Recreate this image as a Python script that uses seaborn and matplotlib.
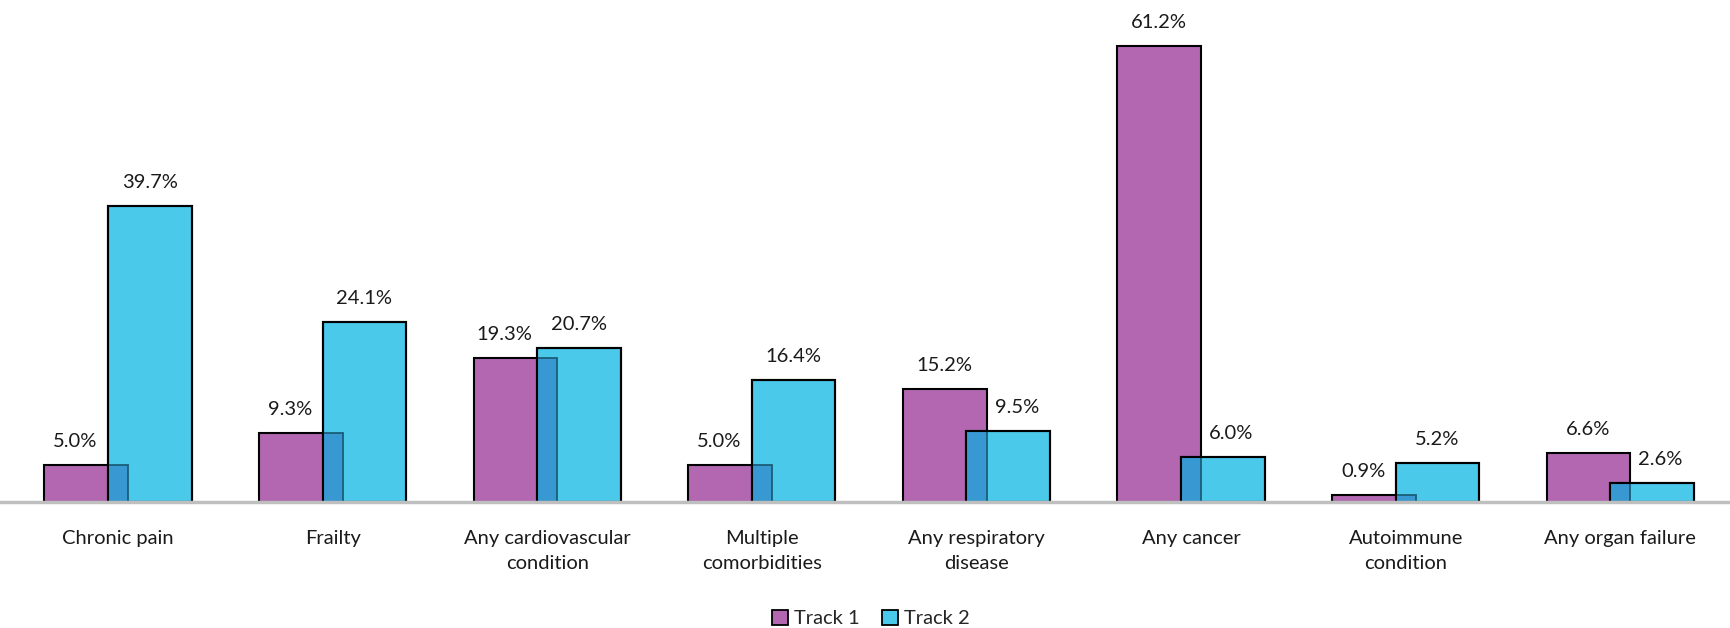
import numpy as np
import pandas as pd
import matplotlib
matplotlib.use("Agg")
import matplotlib.pyplot as plt
import seaborn as sns
from matplotlib.patches import Patch

categories = [
    "Chronic pain", "Frailty", "Any cardiovascular\ncondition",
    "Multiple\ncomorbidities", "Any respiratory\ndisease", "Any cancer",
    "Autoimmune\ncondition", "Any organ failure",
]
track1 = [5.0, 9.3, 19.3, 5.0, 15.2, 61.2, 0.9, 6.6]
track2 = [39.7, 24.1, 20.7, 16.4, 9.5, 6.0, 5.2, 2.6]
series_names = ["Track 1", "Track 2"]

PURPLE = "#B267B0"
CYAN = "#4BC9EA"
OVERLAP = "#3899D2"
OVERLAP_EDGE = "#1B5E78"
FS = 14.5

sns.set_theme(style="white")
plt.rcParams["font.family"] = ["Lato", "DejaVu Sans"]

fig = plt.figure(figsize=(17.31, 6.28), dpi=100)
ax = fig.add_axes([0.0, 0.2006, 1.0, 0.7994])

pos = np.arange(len(categories), dtype=float)
shift = 0.148
bw = 0.39

df1 = pd.DataFrame({"x": pos - shift, "y": track1})
df2 = pd.DataFrame({"x": pos + shift, "y": track2})

sns.barplot(data=df1, x="x", y="y", native_scale=True, orient="x", width=bw,
            color=PURPLE, saturation=1, edgecolor="black", linewidth=1.5,
            errorbar=None, ax=ax, zorder=2)
sns.barplot(data=df2, x="x", y="y", native_scale=True, orient="x", width=bw,
            color=CYAN, saturation=1, edgecolor="black", linewidth=1.5,
            errorbar=None, ax=ax, zorder=3)

# Shaded region where the two bars of a category overlap
ov_w = bw - 2 * shift
ov_h = np.minimum(track1, track2)
ax.bar(pos, ov_h, width=ov_w, color=OVERLAP, edgecolor=OVERLAP_EDGE,
       linewidth=1.3, zorder=4)
# Track 2 outlines back on top of the shaded overlap
ax.bar(pos + shift, track2, width=bw, fill=False, edgecolor="black",
       linewidth=1.5, zorder=5)

# Value labels, nudged sideways so they clear the neighbouring taller bar
label_pad = 2.0
for i, (a, b) in enumerate(zip(track1, track2)):
    dx1 = -0.05 if b > a else 0.0
    dx2 = 0.04 if a > b else 0.0
    ax.text(pos[i] - shift + dx1, a + label_pad, f"{a:.1f}%", ha="center",
            va="bottom", fontsize=FS, color="#1a1a1a", zorder=6)
    ax.text(pos[i] + shift + dx2, b + label_pad, f"{b:.1f}%", ha="center",
            va="bottom", fontsize=FS, color="#1a1a1a", zorder=6)

ax.set_xlim(-0.55, 7.516)
ax.set_ylim(0, 67.3)
ax.set_xticks(pos)
ax.set_xticklabels(categories, fontsize=FS, color="#1a1a1a", linespacing=1.6)
ax.tick_params(axis="x", length=0, pad=20)
ax.set_yticks([])
ax.set_xlabel("")
ax.set_ylabel("")
for s in ["top", "left", "right"]:
    ax.spines[s].set_visible(False)
ax.spines["bottom"].set_color("#BFBFBF")
ax.spines["bottom"].set_linewidth(2.5)
ax.spines["bottom"].set_zorder(10)

handles = [Patch(facecolor=PURPLE, edgecolor="black", linewidth=1.3),
           Patch(facecolor=CYAN, edgecolor="black", linewidth=1.3)]
fig.legend(handles, series_names, loc="center", bbox_to_anchor=(0.503, 0.015),
           ncol=2, frameon=False, fontsize=FS, handlelength=0.8,
           handleheight=0.8, handletextpad=0.3, columnspacing=1.1)

fig.savefig("out.png", dpi=100, facecolor="white")
